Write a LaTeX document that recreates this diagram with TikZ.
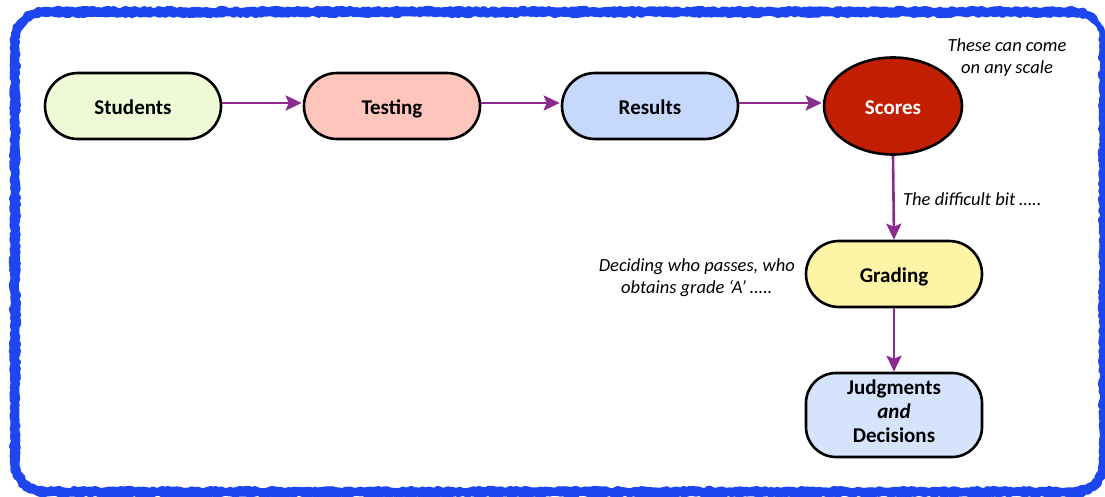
\documentclass[tikz,border=0pt]{standalone}
\usepackage{fontspec}
\setmainfont{Carlito}
\usetikzlibrary{shapes.geometric,arrows.meta,decorations.pathmorphing}
\definecolor{bordblue}{HTML}{1E46F0}
\definecolor{arrpurple}{HTML}{8B2B8F}
\definecolor{cgreen}{HTML}{EEFAD6}
\definecolor{cpink}{HTML}{FEC5BD}
\definecolor{cblue}{HTML}{C6D9FC}
\definecolor{cred}{HTML}{C21E02}
\definecolor{cyellow}{HTML}{FDF4A6}
\definecolor{clblue}{HTML}{D5E3FC}
\tikzset{
  capsule/.style={draw=black, line width=2.6pt, rounded corners=33pt, minimum width=176pt, minimum height=66pt, font=\fontsize{21}{25}\selectfont\bfseries, align=center, inner sep=0pt, text height=17pt, text depth=0pt},
  flow/.style={draw=arrpurple, line width=2.6pt, -{Stealth[length=16pt,width=15pt,inset=3pt]}},
  note/.style={font=\fontsize{18.5}{22}\selectfont\itshape, align=center, inner sep=0pt},
  rough/.style={draw=bordblue, line width=5pt, line join=round, line cap=round, decorate, decoration={random steps, segment length=3pt, amplitude=1.2pt}}
}
\begin{document}
\begin{tikzpicture}[x=1pt,y=-1pt]
\useasboundingbox (0,0) rectangle (1105,497);
% rough border
\pgfmathsetseed{7}
\begin{scope}[x=1pt,y=1pt]
\foreach \d in {-2.5,0,2.5} {
  \draw[rough] (45,-12-\d) -- (1074,-12-\d) arc[start angle=90,end angle=0,radius=30+\d]
    -- (1104+\d,-462) arc[start angle=0,end angle=-90,radius=30+\d]
    -- (45,-492-\d) arc[start angle=270,end angle=180,radius=30+\d]
    -- (15-\d,-42) arc[start angle=180,end angle=90,radius=30+\d] -- cycle;
}
\end{scope}
% nodes
\node[capsule, fill=cgreen] (stu) at (133,106) {Students};
\node[capsule, fill=cpink] (tes) at (392,106) {Testing};
\node[capsule, fill=cblue] (res) at (650,106) {Results};
\node[ellipse, draw=black, line width=2.6pt, fill=cred, minimum width=138pt, minimum height=97pt, text=white, font=\fontsize{21}{25}\selectfont\bfseries, inner sep=0pt, text height=17pt, text depth=0pt] (sco) at (893,106) {Scores};
\node[capsule, fill=cyellow] (gra) at (894,274) {Grading};
\node[capsule, fill=clblue, minimum height=84pt, rounded corners=30pt, font=\fontsize{21}{24}\selectfont\bfseries, text height=, text depth=8pt] (jud) at (894,415) {Judgments\\\textit{and}\\Decisions};
% notes
\node[note] (n1) at (1007,58) {These can come\\on any scale};
\node[note, anchor=west] (n2) at (903,199) {The difficult bit …..};
\node[note, anchor=east] (n3) at (795,278) {Deciding who passes, who\\obtains grade ‘A’ …..};
% arrows
\draw[flow] ([yshift=3pt]stu.east) -- ([yshift=3pt,xshift=-1pt]tes.west);
\draw[flow] ([yshift=3pt]tes.east) -- ([yshift=3pt,xshift=-1pt]res.west);
\draw[flow] ([yshift=3pt]res.east) -- ([yshift=3pt,xshift=-1pt]sco.west);
\draw[flow] (sco.south) -- (gra.north);
\draw[flow] (gra.south) -- (jud.north);
\end{tikzpicture}
\end{document}
